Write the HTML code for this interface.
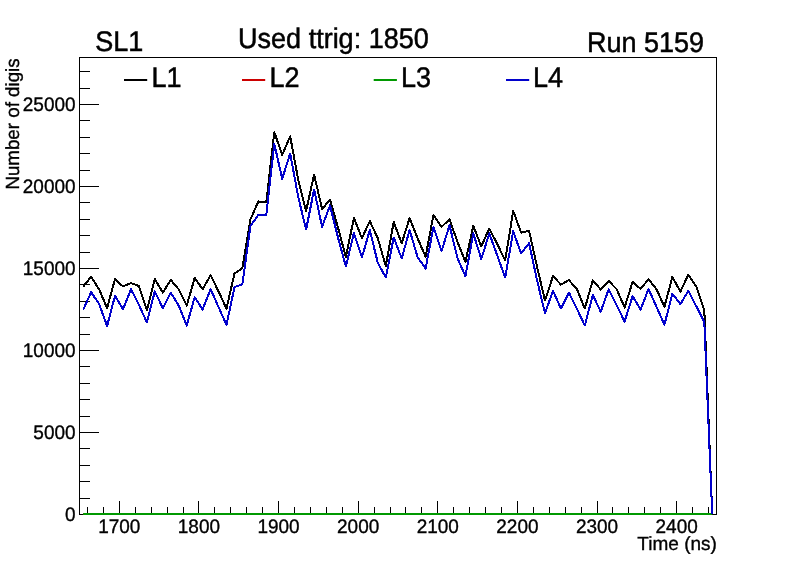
<!DOCTYPE html>
<html><head><meta charset="utf-8"><title>SL1</title>
<style>
html,body{margin:0;padding:0;background:#fff;}
body{width:796px;height:572px;overflow:hidden;}
svg{display:block;opacity:0.999;will-change:transform;}
text{font-family:"Liberation Sans",sans-serif;fill:#000;text-rendering:geometricPrecision;}
</style></head><body>
<svg width="796" height="572" viewBox="0 0 796 572">

<path d="M87.5 515.0V507.0M103.5 515.0V507.0M119.5 515.0V501.0M135.5 515.0V507.0M151.5 515.0V507.0M167.5 515.0V507.0M183.5 515.0V507.0M198.5 515.0V501.0M214.5 515.0V507.0M230.5 515.0V507.0M246.5 515.0V507.0M262.5 515.0V507.0M278.5 515.0V501.0M294.5 515.0V507.0M310.5 515.0V507.0M326.5 515.0V507.0M342.5 515.0V507.0M358.5 515.0V501.0M374.5 515.0V507.0M390.5 515.0V507.0M405.5 515.0V507.0M421.5 515.0V507.0M437.5 515.0V501.0M453.5 515.0V507.0M469.5 515.0V507.0M485.5 515.0V507.0M501.5 515.0V507.0M517.5 515.0V501.0M533.5 515.0V507.0M549.5 515.0V507.0M565.5 515.0V507.0M581.5 515.0V507.0M597.5 515.0V501.0M612.5 515.0V507.0M628.5 515.0V507.0M644.5 515.0V507.0M660.5 515.0V507.0M676.5 515.0V501.0M692.5 515.0V507.0M708.5 515.0V507.0M79.0 514.5H99.0M79.0 498.5H90.0M79.0 481.5H90.0M79.0 465.5H90.0M79.0 448.5H90.0M79.0 432.5H99.0M79.0 416.5H90.0M79.0 399.5H90.0M79.0 383.5H90.0M79.0 366.5H90.0M79.0 350.5H99.0M79.0 334.5H90.0M79.0 317.5H90.0M79.0 301.5H90.0M79.0 284.5H90.0M79.0 268.5H99.0M79.0 252.5H90.0M79.0 235.5H90.0M79.0 219.5H90.0M79.0 202.5H90.0M79.0 186.5H99.0M79.0 170.5H90.0M79.0 153.5H90.0M79.0 137.5H90.0M79.0 120.5H90.0M79.0 104.5H99.0M79.0 88.5H90.0M79.0 71.5H90.0" stroke="#000" stroke-width="1" fill="none" shape-rendering="crispEdges"/>
<rect x="79.5" y="57.5" width="637.0" height="457.0" fill="none" stroke="#000" stroke-width="1" shape-rendering="crispEdges"/>
<polyline points="83.2,286.8 91.1,276.7 99.1,289.3 107.1,308.1 115.0,279.2 123.0,286.4 131.0,283.1 138.9,286.0 146.9,310.5 154.8,279.2 162.8,292.6 170.8,280.0 178.7,289.3 186.7,305.6 194.7,277.9 202.6,289.2 210.6,275.1 218.5,291.4 226.5,308.6 234.5,273.5 242.4,268.1 250.4,219.5 258.4,201.4 266.3,202.4 274.3,132.2 282.2,154.8 290.2,136.3 298.2,179.6 306.1,211.0 314.1,174.7 322.1,209.0 330.0,199.8 338.0,227.7 345.9,257.0 353.9,218.0 361.9,238.3 369.8,221.1 377.8,238.3 385.8,266.0 393.7,221.9 401.7,243.2 409.6,218.2 417.6,238.3 425.6,256.7 433.5,214.9 441.5,226.8 449.5,219.5 457.4,241.5 465.4,262.0 473.3,226.0 481.3,246.4 489.3,228.5 497.2,244.0 505.2,260.3 513.2,211.0 521.1,232.6 529.1,230.9 537.0,266.5 545.0,300.6 553.0,276.0 560.9,284.6 568.9,280.1 576.9,289.2 584.8,308.5 592.8,280.2 600.7,289.5 608.7,281.0 616.7,289.2 624.6,307.5 632.6,281.8 640.6,288.9 648.5,279.2 656.5,289.2 664.4,306.8 672.4,276.9 680.4,291.6 688.3,274.8 696.3,286.7 704.3,310.1 712.2,514.0" fill="none" stroke="#000" stroke-width="2" stroke-linejoin="round" shape-rendering="crispEdges"/>
<path d="M83.2 514H712.2" stroke="#cc0000" stroke-width="2" fill="none"/>
<path d="M83.2 514H712.2" stroke="#009900" stroke-width="2" fill="none"/>
<polyline points="83.2,309.7 91.1,292.2 99.1,304.0 107.1,326.0 115.0,295.8 123.0,309.2 131.0,289.3 138.9,304.8 146.9,322.5 154.8,291.3 162.8,308.1 170.8,292.6 178.7,305.6 186.7,325.6 194.7,297.1 202.6,309.5 210.6,289.0 218.5,307.0 226.5,324.9 234.5,287.2 242.4,284.2 250.4,226.0 258.4,214.9 266.3,214.9 274.3,143.7 282.2,178.8 290.2,153.5 298.2,196.8 306.1,229.6 314.1,189.4 322.1,226.8 330.0,205.4 338.0,237.5 345.9,266.5 353.9,232.9 361.9,257.4 369.8,230.1 377.8,262.8 385.8,277.5 393.7,237.5 401.7,258.4 409.6,230.1 417.6,257.1 425.6,268.5 433.5,226.8 441.5,251.3 449.5,225.2 457.4,257.9 465.4,276.3 473.3,233.4 481.3,259.0 489.3,233.4 497.2,255.4 505.2,277.5 513.2,231.3 521.1,253.5 529.1,243.2 537.0,280.0 545.0,313.4 553.0,290.8 560.9,308.5 568.9,292.5 576.9,308.8 584.8,325.5 592.8,294.9 600.7,311.7 608.7,289.2 616.7,305.5 624.6,321.5 632.6,296.1 640.6,309.6 648.5,288.9 656.5,306.8 664.4,324.8 672.4,293.8 680.4,304.2 688.3,290.8 696.3,306.3 704.3,321.9 712.2,514.0" fill="none" stroke="#0000cc" stroke-width="2" stroke-linejoin="round" shape-rendering="crispEdges"/>
<text transform="translate(119.31,532.80) scale(1.000,1.030)" font-size="19" text-anchor="middle" stroke="#000" stroke-width="0.35">1700</text>
<text transform="translate(198.94,532.80) scale(1.000,1.030)" font-size="19" text-anchor="middle" stroke="#000" stroke-width="0.35">1800</text>
<text transform="translate(278.56,532.80) scale(1.000,1.030)" font-size="19" text-anchor="middle" stroke="#000" stroke-width="0.35">1900</text>
<text transform="translate(358.19,532.80) scale(1.000,1.030)" font-size="19" text-anchor="middle" stroke="#000" stroke-width="0.35">2000</text>
<text transform="translate(437.81,532.80) scale(1.000,1.030)" font-size="19" text-anchor="middle" stroke="#000" stroke-width="0.35">2100</text>
<text transform="translate(517.44,532.80) scale(1.000,1.030)" font-size="19" text-anchor="middle" stroke="#000" stroke-width="0.35">2200</text>
<text transform="translate(597.06,532.80) scale(1.000,1.030)" font-size="19" text-anchor="middle" stroke="#000" stroke-width="0.35">2300</text>
<text transform="translate(676.69,532.80) scale(1.000,1.030)" font-size="19" text-anchor="middle" stroke="#000" stroke-width="0.35">2400</text>
<text transform="translate(75.60,521.10) scale(1.000,1.030)" font-size="19" text-anchor="end" stroke="#000" stroke-width="0.35">0</text>
<text transform="translate(75.60,439.10) scale(1.000,1.030)" font-size="19" text-anchor="end" stroke="#000" stroke-width="0.35">5000</text>
<text transform="translate(75.60,357.10) scale(1.000,1.030)" font-size="19" text-anchor="end" stroke="#000" stroke-width="0.35">10000</text>
<text transform="translate(75.60,275.10) scale(1.000,1.030)" font-size="19" text-anchor="end" stroke="#000" stroke-width="0.35">15000</text>
<text transform="translate(75.60,193.10) scale(1.000,1.030)" font-size="19" text-anchor="end" stroke="#000" stroke-width="0.35">20000</text>
<text transform="translate(75.60,111.10) scale(1.000,1.030)" font-size="19" text-anchor="end" stroke="#000" stroke-width="0.35">25000</text>
<text transform="translate(716.90,550.45) scale(1.000,1.000)" font-size="19" text-anchor="end" stroke="#000" stroke-width="0.35">Time (ns)</text>
<text transform="translate(18.60,189.60) rotate(-90) scale(0.986,1.000)" font-size="19" text-anchor="start" stroke="#000" stroke-width="0.35">Number of digis</text>
<text transform="translate(95.30,51.20) scale(1.000,1.050)" font-size="27" text-anchor="start" stroke="#000" stroke-width="0.5">SL1</text>
<text transform="translate(238.10,47.60) scale(1.000,1.050)" font-size="27" text-anchor="start" stroke="#000" stroke-width="0.5">Used ttrig: 1850</text>
<text transform="translate(704.10,51.70) scale(1.000,1.050)" font-size="27" text-anchor="end" stroke="#000" stroke-width="0.5">Run 5159</text>
<path d="M124.0 80H147.2" stroke="#000" stroke-width="2" fill="none"/>
<text transform="translate(151.50,86.60) scale(1.000,1.050)" font-size="27" text-anchor="start" stroke="#000" stroke-width="0.5">L1</text>
<path d="M242.0 80H265.2" stroke="#cc0000" stroke-width="2" fill="none"/>
<text transform="translate(269.40,86.60) scale(1.000,1.050)" font-size="27" text-anchor="start" stroke="#000" stroke-width="0.5">L2</text>
<path d="M373.7 80H396.9" stroke="#009900" stroke-width="2" fill="none"/>
<text transform="translate(401.00,86.60) scale(1.000,1.050)" font-size="27" text-anchor="start" stroke="#000" stroke-width="0.5">L3</text>
<path d="M506.0 80H529.2" stroke="#0000cc" stroke-width="2" fill="none"/>
<text transform="translate(532.90,86.60) scale(1.000,1.050)" font-size="27" text-anchor="start" stroke="#000" stroke-width="0.5">L4</text>
</svg></body></html>
